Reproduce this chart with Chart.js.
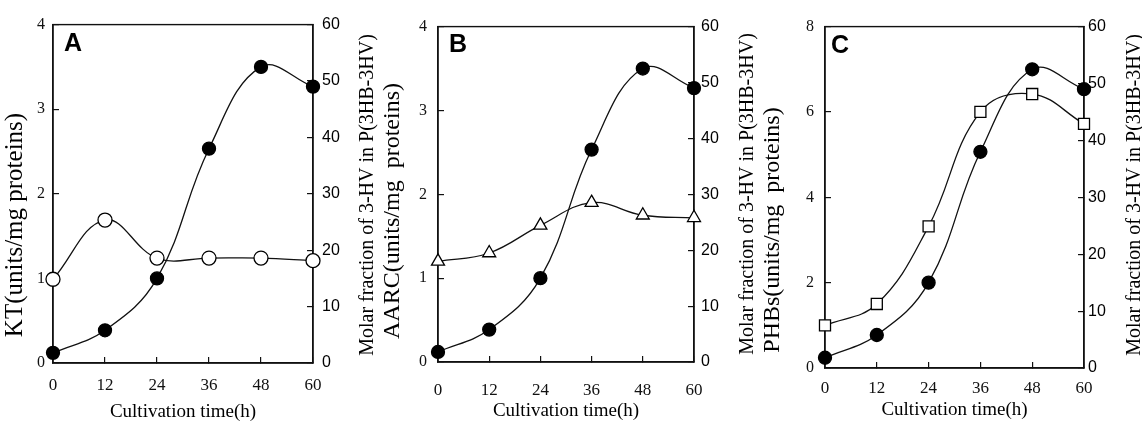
<!DOCTYPE html>
<html>
<head>
<meta charset="utf-8">
<script src="https://cdn.jsdelivr.net/npm/chart.js@4.4.1/dist/chart.umd.min.js"></script>
<style>
  body { margin: 0; background: #fff; width: 1142px; height: 423px; position: relative; overflow: hidden; }
  canvas { position: absolute; top: 0; }
</style>
</head>
<body>
<canvas id="chartA" width="380" height="423" style="left:0"></canvas>
<canvas id="chartB" width="380" height="423" style="left:380px"></canvas>
<canvas id="chartC" width="382" height="423" style="left:760px"></canvas>
<script>
// cultivation time (h)
const hours = [0, 12, 24, 36, 48, 60];
// molar fraction of 3-HV in P(3HB-3HV), %, right axis (filled circles)
const molarHV = [1.8, 5.8, 15, 38, 52.5, 49];
// enzyme activities, units/mg proteins, left axis
const ktActivity = [0.99, 1.69, 1.24, 1.24, 1.24, 1.21];
const aarcActivity = [1.2, 1.3, 1.63, 1.9, 1.75, 1.72];
const phbsActivity = [1.0, 1.5, 3.32, 6.0, 6.42, 5.72];

const SERIF = '"Liberation Serif", "Times New Roman", serif';
const SANS = '"Liberation Sans", Arial, sans-serif';
const INK = '#111';

// box around the plot + panel letter + the two vertical titles
const panelDecor = {
  id: 'panelDecor',
  beforeDatasetsDraw(chart) {
    const { ctx, chartArea: a } = chart;
    ctx.save();
    ctx.strokeStyle = INK;
    ctx.lineWidth = 1.4;
    ctx.strokeRect(a.left, a.top, a.right - a.left, a.bottom - a.top);
    ctx.restore();
  },
  afterDraw(chart, args, o) {
    const { ctx, chartArea: a } = chart;
    ctx.save();
    ctx.fillStyle = '#000';
    ctx.textAlign = 'center';
    ctx.textBaseline = 'middle';
    ctx.font = 'bold 25px ' + SANS;
    ctx.fillText(o.letter, a.left + o.letterDx, a.top + o.letterDy);

    ctx.font = o.leftSize + 'px ' + SERIF;
    ctx.save();
    ctx.translate(o.leftX, o.leftY);
    ctx.rotate(-Math.PI / 2);
    ctx.fillText(o.leftTitle, 0, 0);
    ctx.restore();

    ctx.font = '20px ' + SERIF;
    ctx.translate(o.rightX, o.rightY);
    ctx.rotate(-Math.PI / 2);
    ctx.fillText('Molar fraction of 3-HV in P(3HB-3HV)', 0, 0);
    ctx.restore();
  }
};

function makePanel(id, p) {
  new Chart(document.getElementById(id), {
    type: 'line',
    data: {
      labels: hours,
      datasets: [
        {
          label: 'Molar fraction of 3-HV',
          data: molarHV,
          yAxisID: 'y2',
          borderColor: INK,
          borderWidth: 1.3,
          pointStyle: 'circle',
          pointRadius: 6.5,
          pointBackgroundColor: '#000',
          pointBorderColor: '#000',
          tension: 0.4,
          clip: false
        },
        {
          label: p.leftTitle,
          data: p.activity,
          yAxisID: 'y',
          borderColor: INK,
          borderWidth: 1.3,
          pointStyle: p.marker,
          pointRadius: p.markerSize,
          pointBackgroundColor: '#fff',
          pointBorderColor: '#000',
          pointBorderWidth: 1.3,
          tension: 0.4,
          clip: false
        }
      ]
    },
    options: {
      responsive: false,
      animation: false,
      layout: { padding: { top: p.top, left: 0, right: 0, bottom: 0 } },
      plugins: {
        legend: { display: false },
        tooltip: { enabled: false },
        panelDecor: p.decor
      },
      scales: {
        x: {
          type: 'linear',
          min: 0,
          max: 60,
          afterFit(s) { s.height = p.bottomH; },
          ticks: { stepSize: 12, color: INK, font: { family: SERIF, size: 17 }, padding: p.xPad, maxRotation: 0 },
          grid: { drawOnChartArea: false, tickLength: -6, color: INK, lineWidth: 1.2 },
          border: { color: INK, width: 1.4 },
          title: { display: true, text: 'Cultivation time(h)', color: '#000', font: { family: SERIF, size: 19 }, padding: { top: 0, bottom: p.xTitlePad } }
        },
        y: {
          position: 'left',
          min: 0,
          max: p.leftMax,
          afterFit(s) { s.width = p.leftW; },
          ticks: { stepSize: p.leftStep, color: INK, font: { family: SERIF, size: 16 }, padding: p.leftPad },
          grid: { drawOnChartArea: false, tickLength: -6, color: INK, lineWidth: 1.2 },
          border: { color: INK, width: 1.4 }
        },
        y2: {
          position: 'right',
          min: 0,
          max: 60,
          afterFit(s) { s.width = p.rightW; },
          ticks: { stepSize: 10, color: '#000', font: { family: SANS, size: 16 }, padding: p.rightPad },
          grid: { drawOnChartArea: false, tickLength: -6, color: INK, lineWidth: 1.2 },
          border: { color: INK, width: 1.4 }
        }
      }
    },
    plugins: [panelDecor]
  });
}

makePanel('chartA', {
  leftTitle: 'KT(units/mg proteins)',
  activity: ktActivity, marker: 'circle', markerSize: 7,
  leftMax: 4, leftStep: 1,
  top: 16, bottomH: 60, leftW: 53, rightW: 67,
  xPad: 18, xTitlePad: 0, leftPad: 14, rightPad: 15,
  decor: { letter: 'A', letterDx: 20, letterDy: 20, leftTitle: 'KT(units/mg proteins)', leftSize: 25, leftX: 15, leftY: 225, rightX: 368, rightY: 195 }
});

makePanel('chartB', {
  leftTitle: 'AARC(units/mg  proteins)',
  activity: aarcActivity, marker: 'triangle', markerSize: 7.5,
  leftMax: 4, leftStep: 1,
  top: 14, bottomH: 61, leftW: 58, rightW: 66,
  xPad: 24, xTitlePad: 1, leftPad: 17, rightPad: 13,
  decor: { letter: 'B', letterDx: 20, letterDy: 19, leftTitle: 'AARC(units/mg  proteins)', leftSize: 24, leftX: 13, leftY: 211, rightX: 368, rightY: 194 }
});

makePanel('chartC', {
  leftTitle: 'PHBs(units/mg  proteins)',
  activity: phbsActivity, marker: 'rect', markerSize: 7.8,
  leftMax: 8, leftStep: 2,
  top: 11, bottomH: 55, leftW: 65, rightW: 58,
  xPad: 16, xTitlePad: 2, leftPad: 17, rightPad: 10,
  decor: { letter: 'C', letterDx: 15, letterDy: 20, leftTitle: 'PHBs(units/mg  proteins)', leftSize: 24, leftX: 13, leftY: 230, rightX: 375, rightY: 195 }
});
</script>
</body>
</html>
